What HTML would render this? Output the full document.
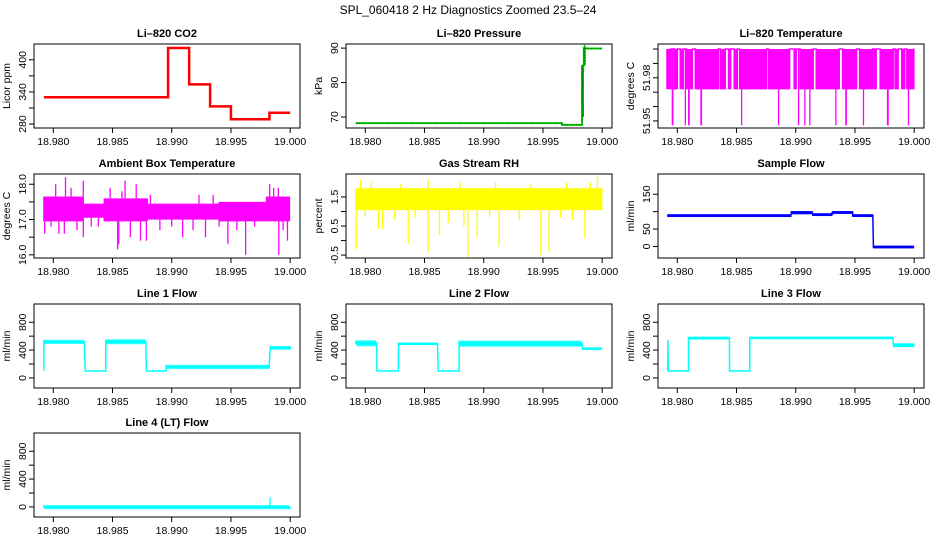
<!DOCTYPE html>
<html><head><meta charset="utf-8"><style>
body{margin:0;background:#fff}
svg{display:block;font-family:"Liberation Sans",Arial,sans-serif}
</style></head><body>
<svg id="chart" width="936" height="540" viewBox="0 0 936 540">
<rect width="936" height="540" fill="#fff"/>
<text x="468" y="14" text-anchor="middle" font-size="12">SPL_060418  2 Hz Diagnostics Zoomed 23.5–24</text>
</svg>
<script>
// ---- data ----
const xTicks = [18.980, 18.985, 18.990, 18.995, 19.000];
const xTickLabels = ["18.980", "18.985", "18.990", "18.995", "19.000"];
const co2Breaks = [18.9792, 18.98969, 18.99147, 18.99324, 18.99500, 18.99825, 19.0];
const co2Levels = [330, 422, 354, 313, 289, 301];
const pressureSegs = [[18.9792,18.99661,68.2,68.2],[18.99661,18.9983,67.7,67.7],[18.9983,18.99845,70,85],[18.99845,18.9986,85,90.3],[18.9986,19.0,89.9,89.9]];
const tempOsc = [[18.97913,18.97955],[18.97975,18.98003],[18.98025,18.98054],[18.98076,18.98132],[18.98152,18.98349],[18.98363,18.98413],[18.98433,18.98453],[18.98481,18.98509],[18.98526,18.98757],[18.98771,18.98953],[18.98987,18.99004],[18.99038,18.99150],[18.99173,18.99375],[18.99395,18.99516],[18.99539,18.99651],[18.99662,18.99684],[18.99713,18.99825],[18.99839,18.99867],[18.99895,18.99924],[18.99938,18.99999]];
const tempLevels = [52.00, 51.972, 51.947];
const tempSpikes = [18.97958,18.97962,18.98068,18.98096,18.98100,18.98200,18.98204,18.98543,18.98855,18.99024,18.99077,18.99119,18.99339,18.99423,18.99427,18.99572,18.99775,18.99780,18.99952];
const ambientSegs = [[18.9792,18.9825,16.95,17.65],[18.9825,18.9843,17.05,17.45],[18.9843,18.9880,16.95,17.6],[18.9880,18.9940,17.0,17.45],[18.9940,18.9980,16.95,17.5],[18.9980,19.0,16.95,17.65]];
const ambientSpikes = [[18.97927,16.6],[18.98047,16.6],[18.98093,16.6],[18.98253,16.5],[18.98543,16.15],[18.98553,16.3],[18.98736,16.4],[18.98786,16.4],[18.99092,16.5],[18.99285,16.5],[18.99474,16.3],[18.99624,16.0],[18.99904,16.0],[18.99977,16.4],[18.98103,18.2],[18.98253,18.1],[18.98606,18.1],[18.99827,18.0],[18.97980,16.8],[18.98020,18.0],[18.98150,17.9],[18.98200,16.7],[18.98320,16.8],[18.98480,17.9],[18.98650,16.5],[18.98700,18.0],[18.98900,16.7],[18.99000,16.8],[18.99180,16.7],[18.99400,16.8],[18.99550,16.7],[18.99700,16.8],[18.99860,17.9],[18.99900,17.9],[18.99940,16.7],[18.98380,16.8],[18.98580,17.8],[18.98820,17.7],[18.99230,17.7],[18.99350,17.7]];
const rhSegs = [[18.9792,19.0,1.05,1.8]];
const rhSpikes = [[18.97923,-0.3],[18.98111,0.4],[18.98146,0.4],[18.98362,-0.1],[18.98530,-0.4],[18.98626,0.2],[18.98832,0.5],[18.98866,-0.6],[18.98945,0.1],[18.99130,-0.2],[18.99483,-0.5],[18.99552,-0.4],[18.99854,0.1],[18.97960,2.1],[18.98530,2.1],[18.99960,2.2],[18.98000,0.8],[18.98250,0.7],[18.98420,0.8],[18.98700,0.6],[18.99050,0.8],[18.99300,0.7],[18.99650,0.8],[18.99750,0.7],[18.98050,2.0],[18.98300,1.95],[18.98800,2.0],[18.99100,2.0],[18.99400,1.95],[18.99700,2.0],[18.99900,2.0]];
const sampleSegs = [[18.9792,18.98962,85,92],[18.98962,18.99144,93,101],[18.99144,18.99311,88,95],[18.99311,18.99482,94,101],[18.99482,18.99656,85,92],[18.99656,19.0,-5,2]];
const line1Segs = [[18.9792,18.97925,100,520],[18.97925,18.9827,510,525],[18.9827,18.98443,100,100],[18.98443,18.98786,510,530],[18.98786,18.98953,100,100],[18.98953,18.99831,150,165],[18.99831,19.0,410,455]];
const line2Segs = [[18.9792,18.98098,485,510],[18.98098,18.9828,100,100],[18.9828,18.98616,475,505],[18.98616,18.98792,100,100],[18.98792,18.99832,480,505],[18.99832,19.0,405,435]];
const line3Segs = [[18.9792,18.97925,100,550],[18.97925,18.98094,100,100],[18.98094,18.98441,555,590],[18.98441,18.98612,100,100],[18.98612,18.99827,560,590],[18.99827,19.0,445,495]];
const line4Segs = [[18.9792,19.0,-10,5]];
const line4Spikes = [[18.9983,140]];

// ---- layout ----
const NS = "http://www.w3.org/2000/svg";
const svg = document.getElementById('chart');
const XMIN = 18.97837, XMAX = 19.00083;
const colL = [34, 346, 658], rowT = [44, 174, 304, 433], W = 266, H = 84;
function mk(tag, attrs, parent){ const e=document.createElementNS(NS,tag); for(const k in attrs) e.setAttribute(k,attrs[k]); (parent||svg).appendChild(e); return e; }

function panel(col,row,name,title,ylab,ymin,ymax,yticks,ylabels,draw){
  const L=colL[col], T=rowT[row];
  const g=mk('g',{});
  
  
  const sx=v=>L+(v-XMIN)/(XMAX-XMIN)*W;
  const sy=v=>T+H-(v-ymin)/(ymax-ymin)*H;
  const t=mk('text',{x:L+W/2,y:T-7,'text-anchor':'middle','font-size':11,'font-weight':'bold'},g);
  t.textContent=title;
  
  
  const clip=mk('clipPath',{id:'c'+name},g); mk('rect',{x:L,y:T,width:W,height:H},clip);
  const dg=mk('g',{'clip-path':'url(#c'+name+')'},g);
  
  
  draw(dg,sx,sy);
  const box=mk('rect',{x:L,y:T,width:W,height:H,fill:'none',stroke:'#000','stroke-width':1},g);
  
  
  xTicks.forEach((v,i)=>{
    const x=sx(v);
    mk('line',{x1:x,x2:x,y1:T+H,y2:T+H+5,stroke:'#000'},g);
    const lb=mk('text',{x:x,y:T+H+17,'text-anchor':'middle','font-size':10.5},g);
    lb.textContent=xTickLabels[i];
    
    
  });
  mk('line',{x1:sx(xTicks[0]),x2:sx(xTicks[xTicks.length-1]),y1:T+H,y2:T+H,stroke:'#000'},g);
  yticks.forEach(v=>{
    const y=sy(v);
    mk('line',{x1:L-5,x2:L,y1:y,y2:y,stroke:'#000'},g);
  });
  ylabels.forEach(pair=>{
    const y=sy(pair[0]);
    const lb=mk('text',{x:L-8,y:y,'text-anchor':'middle','font-size':10.5,transform:`rotate(-90 ${L-8} ${y})`},g);
    lb.textContent=pair[1];
    
    
  });
  const yl=mk('text',{x:L-24,y:T+H/2,'text-anchor':'middle','font-size':10.5,transform:`rotate(-90 ${L-24} ${T+H/2})`},g);
  yl.textContent=ylab;
  
  
}

function segPath(segs,sx,sy){
  let d='';
  segs.forEach(s=>{
    const a=sx(s[0]), b=sx(s[1]);
    if(s[2]===s[3]){ d+=(d?'L':'M')+a+','+sy(s[2])+'L'+b+','+sy(s[2]); }
    else{ d+=(d?'L':'M')+a+','+sy(s[2]); for(let p=a;p<=b;p+=1){ d+='L'+p+','+sy(s[2])+'L'+p+','+sy(s[3]); } }
  });
  return d;
}
function levelAt(segs,x,v){
  for(const s of segs){ if(x>=s[0]&&x<=s[1]) return v<s[2]?s[2]:s[3]; }
  return segs[0][2];
}
function drawSegs(segs,spikes,color,sw){
  return (g,sx,sy)=>{
    const p=mk('path',{d:segPath(segs,sx,sy),fill:'none',stroke:color,'stroke-width':sw},g);
    
    
    (spikes||[]).forEach(s=>{
      const l=mk('line',{x1:sx(s[0]),x2:sx(s[0]),y1:sy(levelAt(segs,s[0],s[1])),y2:sy(s[1]),stroke:color,'stroke-width':1.3},g);
      
      
    });
  };
}

// CO2
panel(0,0,'co2','Li–820 CO2','Licor ppm',272.6,429.5,[280,310,340,370,400],[[280,'280'],[340,'340'],[400,'400']],(g,sx,sy)=>{
  let d='';
  co2Levels.forEach((v,i)=>{ d+=(i?'L':'M')+sx(co2Breaks[i])+','+sy(v)+'L'+sx(co2Breaks[i+1])+','+sy(v); });
  const p=mk('path',{d:d,fill:'none',stroke:'#ff0000','stroke-width':2.5},g);
  
  
});
// Pressure
panel(1,0,'pressure','Li–820 Pressure','kPa',66.8,91.2,[70,80,90],[[70,'70'],[80,'80'],[90,'90']],(g,sx,sy)=>{
  drawSegs(pressureSegs,[],'#00cc00',2)(g,sx,sy);
  const p=mk('path',{d:segPath(pressureSegs,sx,sy),fill:'none',stroke:'#004400','stroke-width':0.8,'stroke-dasharray':'1 2'},g);
  
  
});
// Li-820 temperature
const tempSegs=[]; let cur=18.9792;
tempOsc.forEach(o=>{ if(o[0]>cur) tempSegs.push([cur,o[0],tempLevels[0],tempLevels[0]]); tempSegs.push([o[0],o[1],tempLevels[1],tempLevels[0]]); cur=o[1]; });
if(cur<19.0) tempSegs.push([cur,19.0,tempLevels[0],tempLevels[0]]);
panel(2,0,'li820-temp','Li–820 Temperature','degrees C',51.9451,52.0035,[51.95,51.96,51.97,51.98,51.99,52.00],[[51.95,'51.95'],[51.98,'51.98']],
  drawSegs(tempSegs,tempSpikes.map(x=>[x,tempLevels[2]]),'#ff00ff',1.5));
// Ambient
panel(0,1,'ambient-temp','Ambient Box Temperature','degrees C',15.91,18.29,[16.0,16.5,17.0,17.5,18.0],[[16,'16.0'],[17,'17.0'],[18,'18.0']],
  drawSegs(ambientSegs,ambientSpikes,'#ff00ff',1.3));
// RH
panel(1,1,'gas-rh','Gas Stream RH','percent',-0.6,2.29,[-0.5,0,0.5,1.0,1.5],[[-0.5,'-0.5'],[0.5,'0.5'],[1.5,'1.5']],
  drawSegs(rhSegs,rhSpikes,'#ffff00',1.3));
// Sample flow
panel(2,1,'sample-flow','Sample Flow','ml/min',-33,208,[0,50,100,150],[[0,'0'],[50,'50'],[150,'150']],
  drawSegs(sampleSegs,[],'#0000ff',1.5));
// Lines
const flowLabels=[[0,'0'],[400,'400'],[800,'800']];
panel(0,2,'line1-flow','Line 1 Flow','ml/min',-145,1062,[0,200,400,600,800],flowLabels,drawSegs(line1Segs,[],'#00ffff',1.5));
panel(1,2,'line2-flow','Line 2 Flow','ml/min',-145,1062,[0,200,400,600,800],flowLabels,drawSegs(line2Segs,[],'#00ffff',1.5));
panel(2,2,'line3-flow','Line 3 Flow','ml/min',-145,1062,[0,200,400,600,800],flowLabels,drawSegs(line3Segs,[],'#00ffff',1.5));
panel(0,3,'line4-flow','Line 4 (LT) Flow','ml/min',-145,1062,[0,200,400,600,800],flowLabels,drawSegs(line4Segs,line4Spikes,'#00ffff',1.5));
</script>
</body></html>
